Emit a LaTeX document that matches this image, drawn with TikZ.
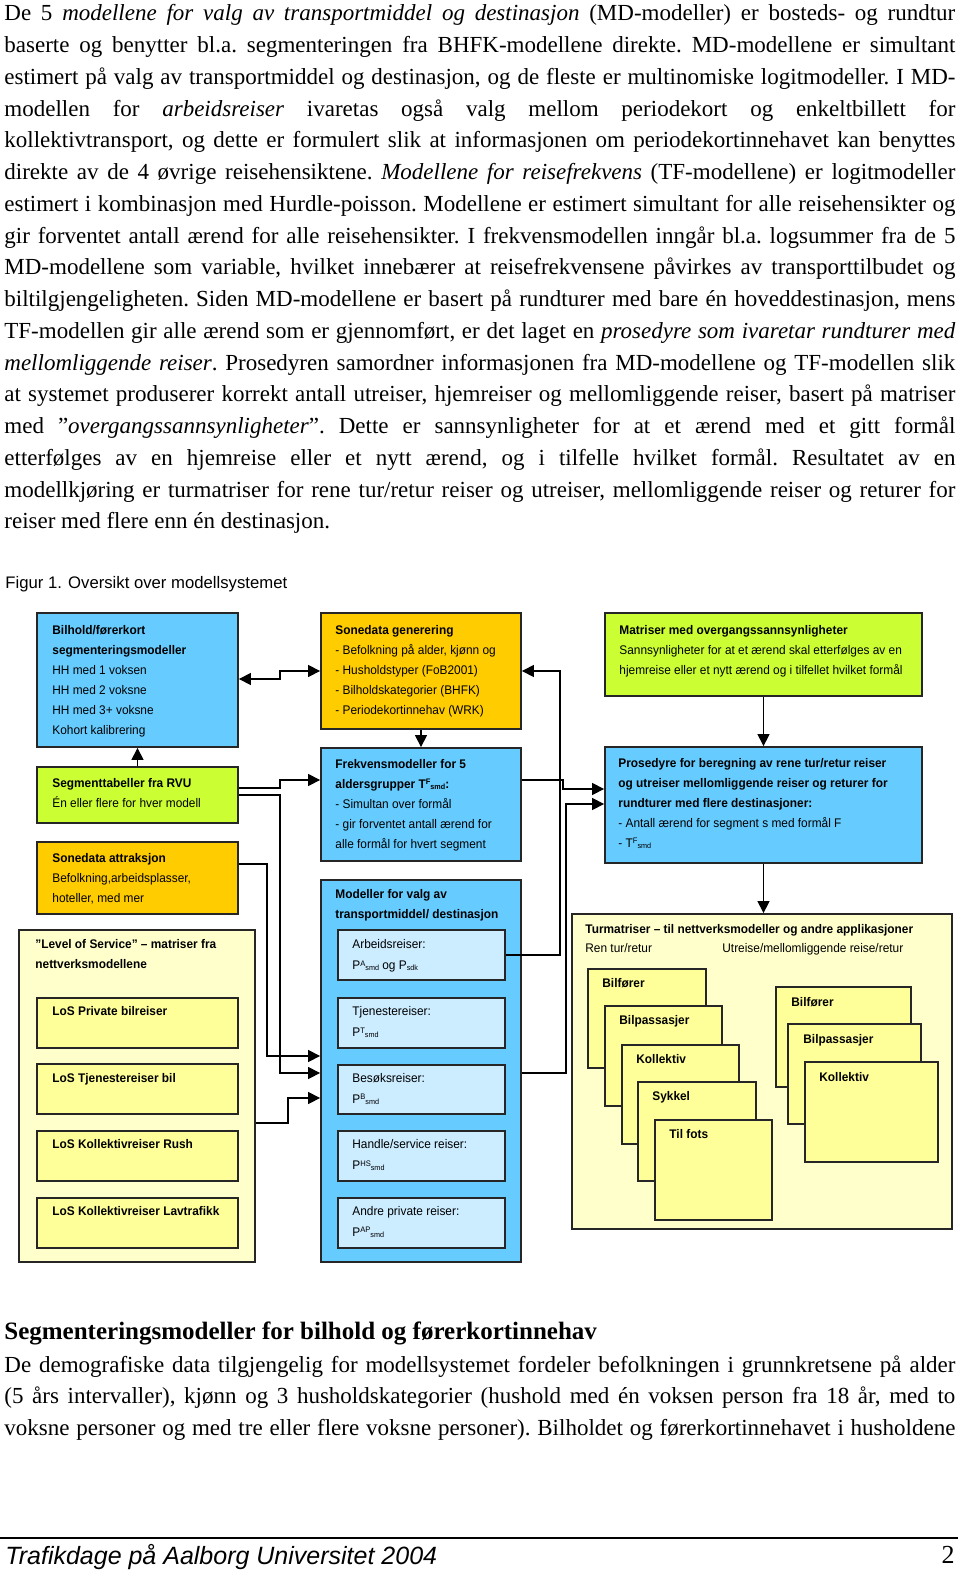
\documentclass[tikz,border=0pt]{standalone}
\usepackage{fontspec}
\setmainfont{Liberation Serif}
\newfontfamily\dgfont{Liberation Sans}[FakeStretch=0.95]
\newfontfamily\capfont{Liberation Sans}
\usetikzlibrary{arrows.meta,fit}
\definecolor{cblue}{RGB}{102,204,255}
\definecolor{corange}{RGB}{255,204,0}
\definecolor{cgreen}{RGB}{204,255,51}
\definecolor{cpale}{RGB}{255,255,204}
\definecolor{cyel}{RGB}{255,255,153}
\definecolor{clblue}{RGB}{204,236,255}
\newcommand\jl[1]{\hbox to\hsize{#1}}
\newcommand\bodysize{\fontsize{11.5}{15.875}\selectfont\frenchspacing}
\newcommand\sps[2]{\raisebox{1.7pt}{\fontsize{4}{4}\selectfont #1}\raisebox{-0.5pt}{\fontsize{3.8}{4}\selectfont #2}}
\newcommand\sbs[1]{\raisebox{-0.5pt}{\fontsize{3.8}{4}\selectfont #1}}
\begin{document}
\begin{tikzpicture}[x=0.5pt,y=-0.5pt,
  box/.style={draw=black!85, line width=0.9pt, inner sep=0pt},
  tx/.style={anchor=base west, inner sep=0pt, font=\dgfont\fontsize{6.25}{10}\selectfont},
  tb/.style={tx, font=\dgfont\bfseries\fontsize{6.25}{10}\selectfont},
  tx2/.style={anchor=base west, inner sep=0pt, font=\dgfont\fontsize{6.25}{10.5}\selectfont},
  arr/.style={line width=0.6pt, -{Triangle[length=6pt,width=6pt]}},
  arr2/.style={line width=0.6pt, {Triangle[length=6pt,width=6pt]}-{Triangle[length=6pt,width=6pt]}}]
\fill[white] (0,0) rectangle (960,1572);
\useasboundingbox (0,0) rectangle (960,1572);
\begin{scope}[yshift=-1pt]
% ---------- body text ----------
\node[anchor=base west, inner sep=0pt] (p1) at (4,19) {\bodysize\vtop{\hsize=475.5pt
\jl{De 5 \textit{modellene for valg av transportmiddel og destinasjon} (MD-modeller) er bosteds- og rundtur}
\jl{baserte og benytter bl.a. segmenteringen fra BHFK-modellene direkte. MD-modellene er simultant}
\jl{estimert på valg av transportmiddel og destinasjon, og de fleste er multinomiske logitmodeller. I MD-}
\jl{modellen for \textit{arbeidsreiser} ivaretas også valg mellom periodekort og enkeltbillett for}
\jl{kollektivtransport, og dette er formulert slik at informasjonen om periodekortinnehavet kan benyttes}
\jl{direkte av de 4 øvrige reisehensiktene. \textit{Modellene for reisefrekvens} (TF-modellene) er logitmodeller}
\jl{estimert i kombinasjon med Hurdle-poisson. Modellene er estimert simultant for alle reisehensikter og}
\jl{gir forventet antall ærend for alle reisehensikter. I frekvensmodellen inngår bl.a. logsummer fra de 5}
\jl{MD-modellene som variable, hvilket innebærer at reisefrekvensene påvirkes av transporttilbudet og}
\jl{biltilgjengeligheten. Siden MD-modellene er basert på rundturer med bare én hoveddestinasjon, mens}
\jl{TF-modellen gir alle ærend som er gjennomført, er det laget en \textit{prosedyre som ivaretar rundturer med}}
\jl{\textit{mellomliggende reiser}. Prosedyren samordner informasjonen fra MD-modellene og TF-modellen slik}
\jl{at systemet produserer korrekt antall utreiser, hjemreiser og mellomliggende reiser, basert på matriser}
\jl{med ”\textit{overgangssannsynligheter}”. Dette er sannsynligheter for at et ærend med et gitt formål}
\jl{etterfølges av en hjemreise eller et nytt ærend, og i tilfelle hvilket formål. Resultatet av en}
\jl{modellkjøring er turmatriser for rene tur/retur reiser og utreiser, mellomliggende reiser og returer for}
\hbox{reiser med flere enn én destinasjon.}}};

\node[anchor=base west, inner sep=0pt, font=\capfont\fontsize{8.35}{10}\selectfont] (cap) at (5,586) {Figur 1. Oversikt over modellsystemet};

% ---------- boxes ----------
\node[box, fill=cblue, fit={(37,611) (238,745)}] (bilhold) {};
\node[box, fill=corange, fit={(321,611) (521,727)}] (songen) {};
\node[box, fill=cgreen, fit={(605,611) (922,694)}] (matr) {};
\node[box, fill=cgreen, fit={(37,765) (238,821)}] (seg) {};
\node[box, fill=cblue, fit={(321,746) (521,859)}] (frekv) {};
\node[box, fill=cblue, fit={(605,745) (922,861)}] (pros) {};
\node[box, fill=corange, fit={(37,840) (238,912)}] (attr) {};
\node[box, fill=cpale, fit={(19,928) (255,1260)}] (los) {};
\node[box, fill=cblue, fit={(321,878) (521,1260)}] (md) {};
\node[box, fill=cpale, fit={(572,912) (952,1227)}] (tur) {};

\node[box, fill=cyel, fit={(37,996) (238,1046)}] (los1) {};
\node[box, fill=cyel, fit={(37,1062) (238,1112)}] (los2) {};
\node[box, fill=cyel, fit={(37,1129) (238,1179)}] (los3) {};
\node[box, fill=cyel, fit={(37,1196) (238,1246)}] (los4) {};

\node[box, fill=clblue, fit={(338,928) (505,978)}] (arb) {};
\node[box, fill=clblue, fit={(338,996) (505,1046)}] (tje) {};
\node[box, fill=clblue, fit={(338,1063) (505,1112)}] (bes) {};
\node[box, fill=clblue, fit={(338,1129) (505,1179)}] (han) {};
\node[box, fill=clblue, fit={(338,1196) (505,1246)}] (andre) {};

\node[box, fill=cyel, fit={(588,967) (706,1066)}] (tl1) {};
\node[box, fill=cyel, fit={(605,1004) (722,1104)}] (tl2) {};
\node[box, fill=cyel, fit={(622,1043) (739,1142)}] (tl3) {};
\node[box, fill=cyel, fit={(638,1080) (756,1179)}] (tl4) {};
\node[box, fill=cyel, fit={(655,1118) (772,1218)}] (tl5) {};
\node[box, fill=cyel, fit={(776,985) (911,1085)}] (tr1) {};
\node[box, fill=cyel, fit={(788,1022) (921,1122)}] (tr2) {};
\node[box, fill=cyel, fit={(805,1060) (938,1160)}] (tr3) {};

% ---------- box texts ----------
\node[tx] (tbil) at (52,632) {\vtop{\hbox{\bfseries Bilhold/førerkort}\hbox{\bfseries segmenteringsmodeller}\hbox{HH med 1 voksen}\hbox{HH med 2 voksne}\hbox{HH med 3+ voksne}\hbox{Kohort kalibrering}}};
\node[tx] (tsongen) at (335,632) {\vtop{\hbox{\bfseries Sonedata generering}\hbox{- Befolkning på alder, kjønn og}\hbox{- Husholdstyper (FoB2001)}\hbox{- Bilholdskategorier (BHFK)}\hbox{- Periodekortinnehav (WRK)}}};
\node[tx] (tmatr) at (619,632) {\vtop{\hbox{\bfseries Matriser med overgangssannsynligheter}\hbox{Sannsynligheter for at et ærend skal etterfølges av en}\hbox{hjemreise eller et nytt ærend og i tilfellet hvilket formål}}};
\node[tx] (tseg) at (52,785) {\vtop{\hbox{\bfseries Segmenttabeller fra RVU}\hbox{Én eller flere for hver modell}}};
\node[tx] (tfrekv) at (335,766) {\vtop{\hbox{\bfseries Frekvensmodeller for 5}\hbox{\bfseries aldersgrupper T\sps{F}{smd}:}\hbox{- Simultan over formål}\hbox{- gir forventet antall ærend for}\hbox{alle formål for hvert segment}}};
\node[tx] (tpros) at (618,765) {\vtop{\hbox{\bfseries Prosedyre for beregning av rene tur/retur reiser}\hbox{\bfseries og utreiser mellomliggende reiser og returer for}\hbox{\bfseries rundturer med flere destinasjoner:}\hbox{- Antall ærend for segment s med formål F}\hbox{- T\sps{F}{smd}}}};
\node[tx] (tattr) at (52,860.5) {\vtop{\hbox{\bfseries Sonedata attraksjon}\hbox{Befolkning,arbeidsplasser,}\hbox{hoteller, med mer}}};
\node[tx] (tmd) at (335,896.5) {\vtop{\hbox{\bfseries Modeller for valg av}\hbox{\bfseries transportmiddel/ destinasjon}}};
\node[tx] (tlos) at (35,946.5) {\vtop{\hbox{\bfseries ”Level of Service” – matriser fra}\hbox{\bfseries nettverksmodellene}}};

\node[tb] (tlos1) at (52,1013.5) {LoS Private bilreiser};
\node[tb] (tlos2) at (52,1080) {LoS Tjenestereiser bil};
\node[tb] (tlos3) at (52,1146.5) {LoS Kollektivreiser Rush};
\node[tb] (tlos4) at (52,1213) {LoS Kollektivreiser Lavtrafikk};

\node[tx2] (tarb) at (352,946.5) {\vtop{\hbox{Arbeidsreiser:}\hbox{P\sps{A}{smd} og P\sbs{sdk}}}};
\node[tx2] (ttje) at (352,1013.5) {\vtop{\hbox{Tjenestereiser:}\hbox{P\sps{T}{smd}}}};
\node[tx2] (tbes) at (352,1080) {\vtop{\hbox{Besøksreiser:}\hbox{P\sps{B}{smd}}}};
\node[tx2] (than) at (352,1146.5) {\vtop{\hbox{Handle/service reiser:}\hbox{P\sps{HS}{smd}}}};
\node[tx2] (tandre) at (352,1213) {\vtop{\hbox{Andre private reiser:}\hbox{P\sps{AP}{smd}}}};

\node[tb] (ttur) at (585,931.5) {Turmatriser – til nettverksmodeller og andre applikasjoner};
\node[tx] (tren) at (585,950.5) {Ren tur/retur};
\node[tx] (tutr) at (722,950.5) {Utreise/mellomliggende reise/retur};

\node[tb] (ttl1) at (602,985) {Bilfører};
\node[tb] (ttl2) at (619,1022) {Bilpassasjer};
\node[tb] (ttl3) at (636,1061) {Kollektiv};
\node[tb] (ttl4) at (652,1098) {Sykkel};
\node[tb] (ttl5) at (669,1136) {Til fots};
\node[tb] (ttr1) at (791,1004) {Bilfører};
\node[tb] (ttr2) at (803,1041) {Bilpassasjer};
\node[tb] (ttr3) at (819,1079) {Kollektiv};

% ---------- connectors ----------
\draw[arr2] (bilhold.east |- 0,677) -| (280,669) -- (songen.west |- 0,669);
\draw[arr] (songen.south) -- (frekv.north);
\draw[arr] (seg.north) -- (bilhold.south);
\draw[arr] (seg.east |- 0,786) -| (280,778) -- (frekv.west |- 0,778);
\draw[arr] (seg.east |- 0,793) -| (280,1071) -- (md.west |- 0,1071);
\draw[arr] (attr.east |- 0,862) -| (267,1054) -- (md.west |- 0,1054);
\draw[arr] (los.east |- 0,1121) -| (288,1096) -- (md.west |- 0,1096);
\draw[arr] (arb.east) -| (560,669) -- (songen.east |- 0,669);
\draw[arr] (frekv.east |- 0,778) -| (563,787) -- (pros.west |- 0,787);
\draw[arr] (md.east |- 0,1071) -| (566,802) -- (pros.west |- 0,802);
\draw[arr] (matr.south) -- (pros.north);
\draw[arr] (pros.south) -- (pros.south |- tur.north);

% ---------- lower text ----------
\node[anchor=base west, inner sep=0pt, font=\bfseries\fontsize{12.5}{15}\selectfont] (head) at (4,1337) {Segmenteringsmodeller for bilhold og førerkortinnehav};
\node[anchor=base west, inner sep=0pt] (p2) at (4,1370) {\bodysize\vtop{\hsize=475.5pt
\jl{De demografiske data tilgjengelig for modellsystemet fordeler befolkningen i grunnkretsene på alder}
\jl{(5 års intervaller), kjønn og 3 husholdskategorier (hushold med én voksen person fra 18 år, med to}
\jl{voksne personer og med tre eller flere voksne personer). Bilholdet og førerkortinnehavet i husholdene}}};

\coordinate (rl) at (0,1536);
\coordinate (rr) at (958,1536);
\draw[line width=0.75pt] (rl) -- (rr);
\node[anchor=base west, inner sep=0pt, font=\capfont\itshape\fontsize{12.5}{15}\selectfont] (foot) at (5,1562) {Trafikdage på Aalborg Universitet 2004};
\node[anchor=base east, inner sep=0pt, font=\fontsize{13}{15}\selectfont] (pnum) at (955,1561) {2};
\end{scope}
\end{tikzpicture}
\end{document}
